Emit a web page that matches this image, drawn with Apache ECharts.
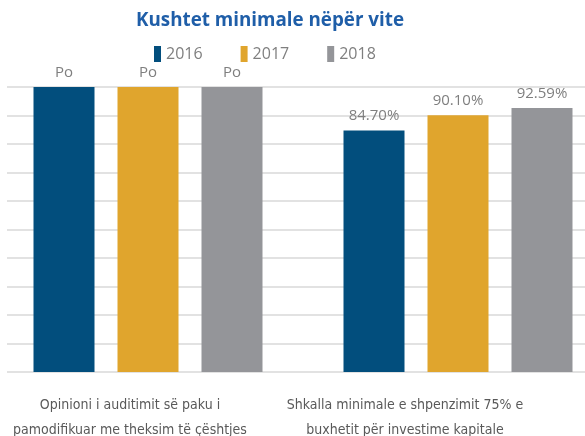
<!DOCTYPE html>
<html>
<head>
<meta charset="utf-8">
<script src="https://cdn.jsdelivr.net/npm/echarts@6/dist/echarts.min.js"></script>
<style>html,body{margin:0;padding:0;background:#fff}#c{width:585px;height:436px}</style>
</head>
<body>
<div id="c"></div>
<script>
var categories = ['Opinioni i auditimit së paku i\npamodifikuar me theksim të çështjes', 'Shkalla minimale e shpenzimit 75% e\nbuxhetit për investime kapitale'];
var years = ['2016', '2017', '2018'];
var v2016 = [100, 84.70];
var v2017 = [100, 90.10];
var v2018 = [100, 92.59];
var l2016 = ['Po', '84.70%'];
var l2017 = ['Po', '90.10%'];
var l2018 = ['Po', '92.59%'];
var colors = ['#024e7d', '#e0a52d', '#949599'];

var chart = echarts.init(document.getElementById('c'));
function mk(name, vals, labs, color) {
  return {
    name: name, type: 'bar', xAxisIndex: 0, yAxisIndex: 0,
    data: vals, barWidth: 61, barGap: '37.7%',
    itemStyle: { color: color },
    label: { show: true, position: 'top', distance: 7, color: '#7f7f7f', fontSize: 15, fontFamily: 'Open Sans',
      formatter: function (p) { return labs[p.dataIndex]; } }
  };
}
var labelFont = { color: '#595959', fontSize: 14, lineHeight: 25, fontFamily: 'DejaVu Sans Condensed' };
chart.setOption({
  animation: false,
  color: colors,
  title: { text: 'Kushtet minimale nëpër vite', left: 131, top: 6,
    textStyle: { color: '#1f5ea8', fontSize: 18.8, fontWeight: 'bold', fontFamily: 'Open Sans' } },
  legend: { data: years, left: 149, top: 41, icon: 'rect', itemWidth: 7, itemHeight: 16, itemGap: 38,
    textStyle: { color: '#7f7f7f', fontSize: 16, fontFamily: 'Open Sans' } },
  grid: [
    { left: -7, right: -28, top: 87, bottom: 64, containLabel: false, outerBoundsMode: 'none' },
    { left: 7, right: 0, top: 87, bottom: 64, containLabel: false, outerBoundsMode: 'none' }
  ],
  xAxis: [
    { type: 'category', gridIndex: 0, data: categories, axisLine: { show: false }, axisTick: { show: false },
      axisLabel: { interval: 0, margin: 21, color: '#595959', fontSize: 14, lineHeight: 25, fontFamily: 'DejaVu Sans Condensed',
        formatter: function (v, i) { return '{c' + i + '|' + v + '}'; },
        rich: {
          c0: Object.assign({ padding: [0, 36, 0, 0] }, labelFont),
          c1: Object.assign({ padding: [0, 106, 0, 0] }, labelFont)
        } } },
    { type: 'category', gridIndex: 1, data: categories, show: false }
  ],
  yAxis: [
    { type: 'value', gridIndex: 0, min: 0, max: 100, interval: 10, show: false, splitLine: { show: false } },
    { type: 'value', gridIndex: 1, min: 0, max: 100, interval: 10, axisLabel: { show: false }, axisLine: { show: false }, axisTick: { show: false },
      splitLine: { show: true, lineStyle: { color: '#d9d9d9', width: 1.5 } } }
  ],
  series: [mk(years[0], v2016, l2016, colors[0]), mk(years[1], v2017, l2017, colors[1]), mk(years[2], v2018, l2018, colors[2])]
});
</script>
</body>
</html>
